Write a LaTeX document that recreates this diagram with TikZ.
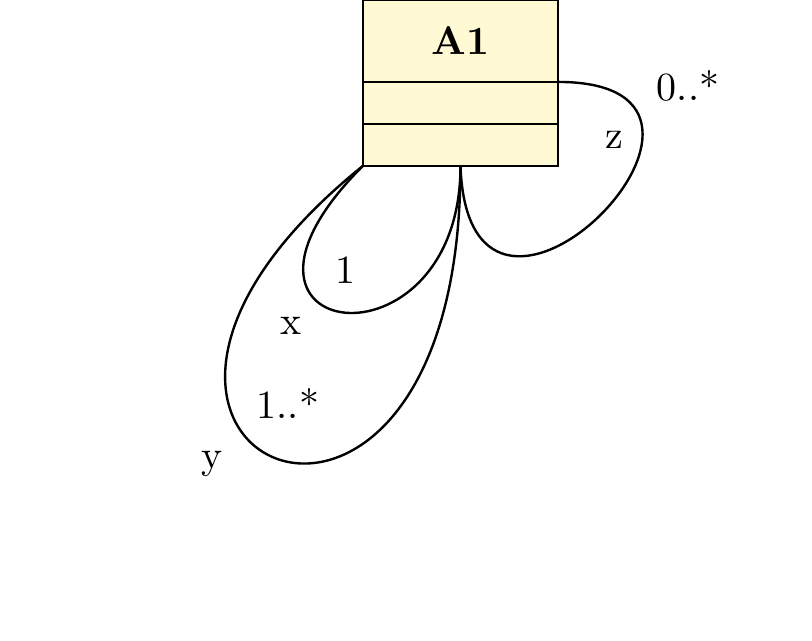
\documentclass[tikz,border=0pt]{standalone}
\usepackage{amsmath,amssymb}
\usepackage{tikz}
\usetikzlibrary{calc,positioning}
\definecolor{umlyellow}{RGB}{255,249,212}
\tikzset{
  umlhead/.style={rectangle, draw=black, fill=umlyellow, line width=0.6pt,
                  outer sep=0pt, minimum width=1.716cm, minimum height=0.721cm,
                  font=\bfseries},
  umlpart/.style={umlhead, minimum height=0.369cm, font=\normalsize},
  umlassoc/.style={line width=0.6pt, black},
  umlmult/.style={font=\normalsize, inner sep=1pt},
}

\begin{document}
\begin{tikzpicture}
  \useasboundingbox (0,0) rectangle (7.14,5.636);
  % class A1 with two empty compartments
  \node[umlhead] (A1name) at (4.049,5.276) {A1};
  \node[umlpart, below=0pt of A1name] (A1attr) {};
  \node[umlpart, below=0pt of A1attr] (A1ops) {};
  % self associations
  \draw[umlassoc] (A1name.south east) .. controls +(0:2.05) and +(272:2.15) .. (A1ops.south);
  \draw[umlassoc] (A1ops.south west) .. controls +(225:2.21) and +(270:1.88) .. (A1ops.south);
  \draw[umlassoc] (A1ops.south west) .. controls +(218.9:4.06) and +(270:4.32) .. (A1ops.south);
  % role names and multiplicities
  \node[umlmult] (mz) at (6.050,4.880) {0..*};
  \node[umlmult] (rz) at (5.399,4.410) {z};
  \node[umlmult] (mx) at (3.034,3.262) {1};
  \node[umlmult] (rx) at (2.559,2.770) {x};
  \node[umlmult] (my) at (2.532,2.084) {1..*};
  \node[umlmult] (ry) at (1.864,1.560) {y};
\end{tikzpicture}
\end{document}
